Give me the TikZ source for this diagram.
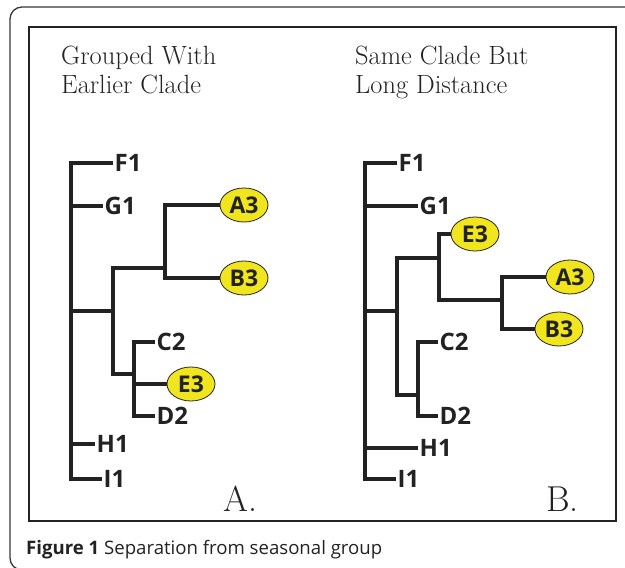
\documentclass[tikz,border=0pt]{standalone}
\usepackage{fontspec}
\usetikzlibrary{shapes.geometric}
\newfontfamily\osans{Open Sans}
\definecolor{leafyellow}{RGB}{241,230,30}
\definecolor{ink}{RGB}{34,34,34}
\begin{document}
\begin{tikzpicture}[x=1pt,y=-1pt,
  branch/.style={draw=ink,line width=3.1pt,line join=miter},
  leaf/.style={anchor=west,inner sep=1.5pt,font=\osans\bfseries\fontsize{24}{24}\selectfont,text=ink},
  hilite/.style={ellipse,draw=ink,line width=0.8pt,fill=leafyellow,inner sep=0pt,
    minimum width=48pt,minimum height=34pt,font=\osans\bfseries\fontsize{23}{23}\selectfont,text=ink},
  title/.style={anchor=north west,align=left,inner sep=0pt,font=\fontsize{26.4}{29}\selectfont,text=ink},
  panel/.style={anchor=base west,inner sep=0pt,font=\fontsize{36}{36}\selectfont,text=ink}]
\useasboundingbox (0,0) rectangle (625,568);
% outer frame
\draw[draw=ink!90,line width=1.3pt,rounded corners=12pt] (40,570) -- (10,570) -- (10,7) -- (640,7);
% inner box
\draw[draw=ink,line width=2.8pt] (29,27) rectangle (616,521);
% titles
\node[title] (tA) at (61,46) {Grouped With\\Earlier Clade};
\node[title] (tB) at (355,46) {Same Clade But\\Long Distance};
\node[panel] (pA) at (223,511) {A.};
\node[panel] (pB) at (546,511) {B.};
% caption
\node[anchor=base west,inner sep=0pt,font=\osans\fontsize{18.6}{18.6}\selectfont,text=ink] (cap) at (26,554)
  {{\bfseries Figure 1} Separation from seasonal group};

% ---------- tree A ----------
\node[leaf] (aF1) at (113,163) {F1};
\node[leaf] (aG1) at (103,206) {G1};
\node[hilite] (aA3) at (244,205) {A3};
\node[hilite] (aB3) at (244,278) {B3};
\node[leaf] (aC2) at (155,342) {C2};
\node[hilite] (aE3) at (191,384) {E3};
\node[leaf] (aD2) at (155,416) {D2};
\node[leaf] (aH1) at (95,444) {H1};
\node[leaf] (aI1) at (102,479) {I1};
\coordinate (aR) at (71,311);
\coordinate (aX) at (113,311);
\coordinate (aY) at (165,268);
\coordinate (aZ) at (134,374);
\draw[branch] (aR) |- (aF1.west);
\draw[branch] (aR) |- (aG1.west);
\draw[branch] (aR) |- (aH1.west);
\draw[branch] (aR) |- (aI1.west);
\draw[branch] (aR) -- (aX);
\draw[branch] (aX) |- (aY);
\draw[branch] (aX) |- (aZ);
\draw[branch] (aY) |- (aA3);
\draw[branch] (aY) |- (aB3);
\draw[branch] (aZ) |- (aC2.west);
\draw[branch] (aZ) |- (aE3);
\draw[branch] (aZ) |- (aD2.west);

% ---------- tree B ----------
\node[leaf] (bF1) at (397,163) {F1};
\node[leaf] (bG1) at (418,206) {G1};
\node[hilite] (bE3) at (475,234) {E3};
\node[hilite] (bA3) at (570,277) {A3};
\node[hilite] (bB3) at (559,329) {B3};
\node[leaf] (bC2) at (438,342) {C2};
\node[leaf] (bD2) at (438,416) {D2};
\node[leaf] (bH1) at (418,448) {H1};
\node[leaf] (bI1) at (396,479) {I1};
\coordinate (bR) at (365,311);
\coordinate (bX) at (397,311);
\coordinate (bY) at (439,258);
\coordinate (bW) at (502,300);
\coordinate (bZ) at (418,395);
\draw[branch] (bR) |- (bF1.west);
\draw[branch] (bR) |- (bG1.west);
\draw[branch] (bR) |- (bH1.west);
\draw[branch] (bR) |- (bI1.west);
\draw[branch] (bR) -- (bX);
\draw[branch] (bX) |- (bY);
\draw[branch] (bX) |- (bZ);
\draw[branch] (bY) |- (bE3);
\draw[branch] (bY) |- (bW);
\draw[branch] (bW) |- (bA3);
\draw[branch] (bW) |- (bB3);
\draw[branch] (bZ) |- (bC2.west);
\draw[branch] (bZ) |- (bD2.west);
\end{tikzpicture}
\end{document}
